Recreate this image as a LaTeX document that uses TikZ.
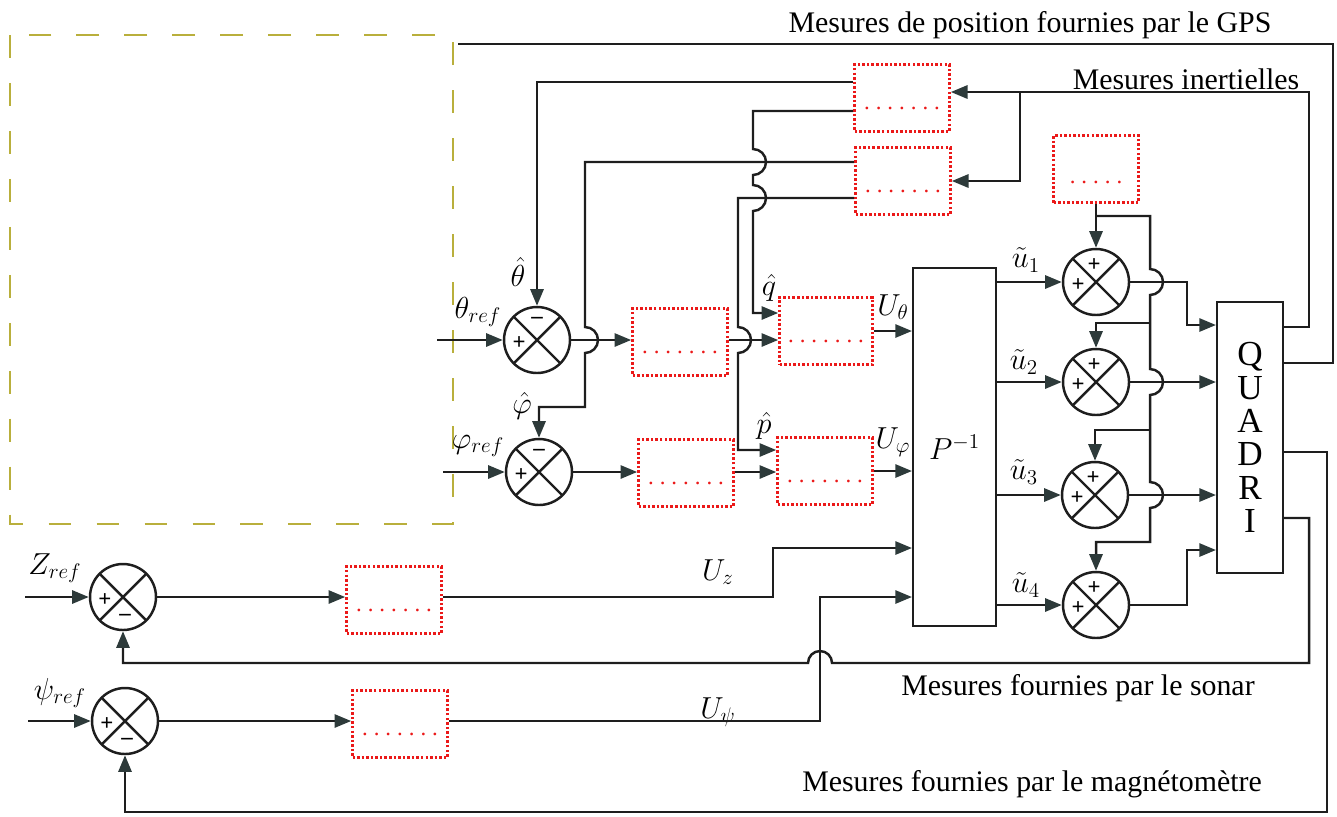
\documentclass[tikz,border=0pt]{standalone}
\usepackage{fontspec}
\setmainfont{Liberation Serif}
\usetikzlibrary{arrows.meta,calc}

\definecolor{linecol}{RGB}{30,30,30}
\definecolor{tipgray}{RGB}{45,58,58}
\definecolor{olivedash}{RGB}{185,175,60}
\definecolor{dotred}{RGB}{235,25,25}

\newcommand{\dd}{.\hspace{3.4pt}}
\newcommand{\redots}{\rule{0pt}{13pt}\dd\dd\dd\dd\dd\dd.}

\tikzset{
  wire/.style={draw=linecol, line width=1.4pt},
  arr/.style={wire, -{Triangle[length=9.5pt,width=7.5pt,color=tipgray]}},
  sumnode/.style={circle, draw=linecol, line width=1.4pt, minimum size=1.32cm, inner sep=0pt,
    path picture={\draw[wire] (path picture bounding box.north west) -- (path picture bounding box.south east)
      (path picture bounding box.north east) -- (path picture bounding box.south west);}},
  ctrlbox/.style={draw=dotred, line width=1.5pt, dash pattern=on 1.4pt off 1.2pt,
    minimum width=1.9cm, minimum height=1.34cm, inner sep=0pt, text=dotred,
    font=\fontsize{13}{13}\selectfont},
  plainbox/.style={draw=linecol, line width=1.2pt, inner sep=0pt},
  sgn/.style={font=\fontsize{13}{13}\selectfont\bfseries, inner sep=0pt},
  lbl/.style={inner sep=0.5pt},
}

\begin{document}
\begin{tikzpicture}[x=0.02cm, y=-0.02cm, font=\fontsize{17}{20}\selectfont]
  \useasboundingbox (0,0) rectangle (1337,816);

  % cadre pointille (observateur)
  \draw[olivedash, line width=1.1pt, dash pattern=on 13pt off 14.3pt] (10,35) rectangle (453,524);

  % sommateurs
  \node[sumnode] (sTh) at (537,340) {};
  \node[sumnode] (sPh) at (539,472) {};
  \node[sumnode] (sZ) at (123,597) {};
  \node[sumnode] (sPsi) at (125,721) {};
  \node[sumnode] (sU1) at (1096,282) {};
  \node[sumnode] (sU2) at (1096,382) {};
  \node[sumnode] (sU3) at (1095,495) {};
  \node[sumnode] (sU4) at (1096,605) {};

  \foreach \s in {sTh,sPh} {
    \node[sgn] (\s-m) at ($(\s)+(0,-20)$) {--};
    \node[sgn] (\s-p) at ($(\s)+(-18,3)$) {+};
  }
  \foreach \s in {sZ,sPsi} {
    \node[sgn] (\s-p) at ($(\s)+(-18,3)$) {+};
    \node[sgn] (\s-m) at ($(\s)+(2,20)$) {--};
  }
  \foreach \s in {sU1,sU2,sU3,sU4} {
    \node[sgn] (\s-t) at ($(\s)+(-2,-17)$) {+};
    \node[sgn] (\s-p) at ($(\s)+(-18,3)$) {+};
  }

  % blocs
  \node[ctrlbox] (blkA) at (902,98) {\redots};
  \node[ctrlbox] (blkB) at (903,181) {\redots};
  \node[ctrlbox, minimum width=1.7cm] (blkC) at (1096,169) {\rule{0pt}{17pt}\dd\dd\dd\dd.};
  \node[ctrlbox] (blkT1) at (680,342) {\redots};
  \node[ctrlbox, minimum width=1.86cm] (blkQ) at (826,331) {\redots};
  \node[ctrlbox] (blkP1) at (686,473) {\redots};
  \node[ctrlbox] (blkP) at (825,471) {\redots};
  \node[ctrlbox] (blkZ) at (394,600) {\redots};
  \node[ctrlbox] (blkPsi) at (400,724) {\redots};

  \node[plainbox, minimum width=1.66cm, minimum height=7.16cm] (pinv) at (954.5,447) {$P^{-1}$};
  \node[plainbox, minimum width=1.32cm, minimum height=5.42cm, align=center,
        font=\fontsize{20}{19}\selectfont] (quad) at (1250,437.5) {Q\\U\\A\\D\\R\\I};

  % textes
  \node (tGPS) at (1030,25) {Mesures de position fournies par le GPS};
  \node (tIner) at (1186,79) {Mesures inertielles};
  \node (tSonar) at (1078,688) {Mesures fournies par le sonar};
  \node (tMag) at (1032,784) {Mesures fournies par le magnétomètre};

  \node[lbl] (lThRef) at (478,312) {$\theta_{ref}$};
  \node[lbl] (lPhRef) at (478,446) {$\varphi_{ref}$};
  \node[lbl] (lZRef) at (55,568) {$Z_{ref}$};
  \node[lbl] (lPsiRef) at (60,693) {$\psi_{ref}$};
  \node[lbl] (lThHat) at (518,272) {$\hat{\theta}$};
  \node[lbl] (lQHat) at (769,288) {$\hat{q}$};
  \node[lbl] (lPhHat) at (522,406) {$\hat{\varphi}$};
  \node[lbl] (lPHat) at (764,426) {$\hat{p}$};
  \node[lbl] (lUTh) at (893,307) {$U_{\theta}$};
  \node[lbl] (lUPh) at (893,442) {$U_{\varphi}$};
  \node[lbl] (lUZ) at (718,572) {$U_{z}$};
  \node[lbl] (lUPsi) at (718,712) {$U_{\psi}$};
  \node[lbl] (lU1) at (1026,260) {$\tilde{u}_1$};
  \node[lbl] (lU2) at (1024,362) {$\tilde{u}_2$};
  \node[lbl] (lU3) at (1024,472) {$\tilde{u}_3$};
  \node[lbl] (lU4) at (1026,585) {$\tilde{u}_4$};

  % entrees de reference
  \coordinate (inTh) at (437,340);
  \coordinate (inPh) at (443,472);
  \coordinate (inZ) at (25,597);
  \coordinate (inPsi) at (28,721);
  \draw[arr] (inTh) -- (sTh.west);
  \draw[arr] (inPh) -- (sPh.west);
  \draw[arr] (inZ) -- (sZ.west);
  \draw[arr] (inPsi) -- (sPsi.west);

  % chaines directes
  \draw[arr] (sTh.east) -- (blkT1.west |- sTh.east);
  \draw[arr] (blkT1.east |- sTh.east) -- (blkQ.west |- sTh.east);
  \draw[arr] (sPh.east) -- (blkP1.west |- sPh.east);
  \draw[arr] (blkP1.east |- sPh.east) -- (blkP.west |- sPh.east);
  \draw[arr] (sZ.east) -- (blkZ.west |- sZ.east);
  \draw[arr] (sPsi.east) -- (blkPsi.west |- sPsi.east);

  \draw[arr] (blkQ.east) -- (blkQ.east -| pinv.west);
  \draw[arr] (blkP.east) -- (blkP.east -| pinv.west);
  \coordinate (jZ) at (773,548);
  \coordinate (jPsi) at (820,597);
  \draw[arr] (blkZ.east |- sZ.east) -| (jZ) -- (jZ -| pinv.west);
  \draw[arr] (blkPsi.east |- sPsi.east) -| (jPsi) -- (jPsi -| pinv.west);

  \draw[arr] (pinv.east |- sU1.west) -- (sU1.west);
  \draw[arr] (pinv.east |- sU2.west) -- (sU2.west);
  \draw[arr] (pinv.east |- sU3.west) -- (sU3.west);
  \draw[arr] (pinv.east |- sU4.west) -- (sU4.west);

  % retours des estimateurs
  \coordinate (thTap) at (537,82);
  \draw[arr] (blkA.west |- thTap) -- (thTap) -- (sTh.north);
  \coordinate (qTap) at (753,111);
  \coordinate (qIn) at (753,313);
  \draw[arr] (blkA.west |- qTap) -- (qTap) -- ++(0,38) arc[start angle=-90,end angle=90,radius=13]
    -- ++(0,10) arc[start angle=-90,end angle=90,radius=13] -- (qIn) -- (qIn -| blkQ.west);
  \coordinate (phTap) at (585,162);
  \coordinate (phTurn) at (585,407);
  \draw[arr] (blkB.west |- phTap) -- (phTap) -- (585,327) arc[start angle=-90,end angle=90,radius=13]
    -- (phTurn) -| (sPh.north);
  \coordinate (pTap) at (738,198);
  \coordinate (pIn) at (738,450);
  \draw[arr] (blkB.west |- pTap) -- (pTap) -- (738,327) arc[start angle=-90,end angle=90,radius=13]
    -- (pIn) -- (pIn -| blkP.west);

  % correction des commandes
  \draw[arr] (blkC.south) -- (sU1.north);
  \coordinate (cBr) at (1096,216);
  \coordinate (b2) at (1150,323);
  \coordinate (b3) at (1150,430);
  \coordinate (b4) at (1150,542);
  \draw[arr] (cBr) -| (1150,269) arc[start angle=-90,end angle=90,radius=13]
    -- (b2) -- (1150,369) arc[start angle=-90,end angle=90,radius=13]
    -- (b3) -- (1150,482) arc[start angle=-90,end angle=90,radius=13]
    -- (b4) -| (sU4.north);
  \draw[arr] (b2) -| (sU2.north);
  \draw[arr] (b3) -| (sU3.north);

  % vers le quadrirotor
  \coordinate (q1) at (1187,325);
  \coordinate (q4) at (1187,550);
  \draw[arr] (sU1.east) -| (q1) -- (q1 -| quad.west);
  \draw[arr] (sU2.east) -- (sU2.east -| quad.west);
  \draw[arr] (sU3.east) -- (sU3.east -| quad.west);
  \draw[arr] (sU4.east) -| (q4) -- (q4 -| quad.west);

  % mesures
  \coordinate (o1) at (1309,327);
  \coordinate (iTurn) at (1309,92);
  \coordinate (iBr) at (1020,92);
  \draw[arr] (quad.east |- o1) -- (o1) -- (iTurn) -- (blkA.east |- iTurn);
  \draw[arr] (iBr) |- (blkB.east);
  \coordinate (o2) at (1333,363);
  \coordinate (gEnd) at (458,44);
  \draw[wire] (quad.east |- o2) -- (o2) |- (gEnd);
  \coordinate (o3) at (1327,452);
  \coordinate (mBot) at (1327,812);
  \draw[arr] (quad.east |- o3) -- (o3) -- (mBot) -| (sPsi.south);
  \coordinate (o4) at (1309,518);
  \coordinate (sBot) at (1309,663);
  \draw[arr] (quad.east |- o4) -- (o4) -- (sBot) -- (832,663) arc[start angle=0,end angle=-180,radius=12]
    -| (sZ.south);
\end{tikzpicture}
\end{document}
